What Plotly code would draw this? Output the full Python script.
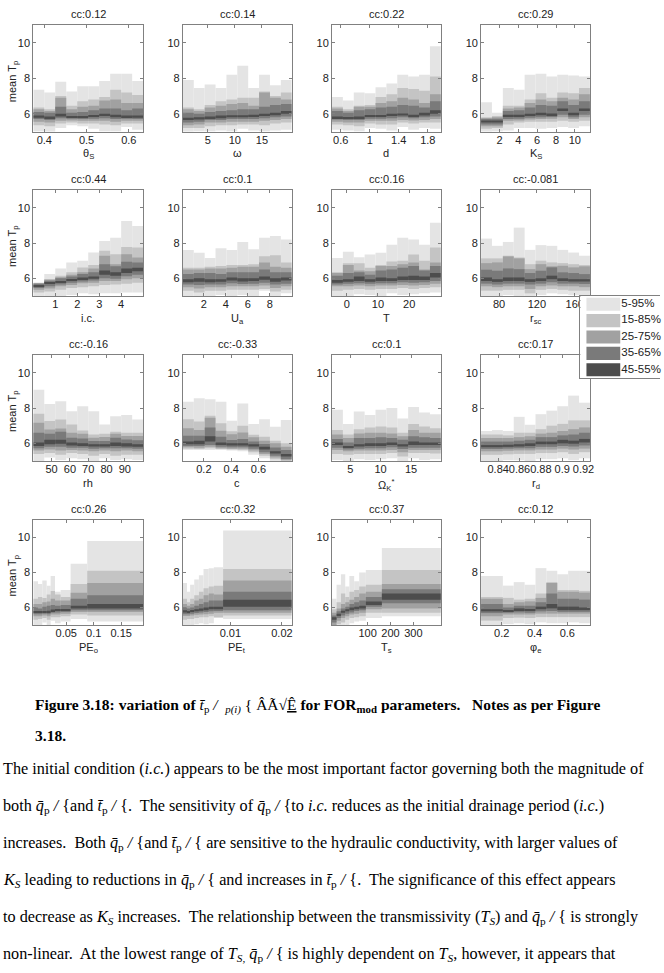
import plotly.graph_objects as go

W, H = 664, 973

LEVELS = ["5-95%", "15-85%", "25-75%", "35-65%", "45-55%"]
BAND_COLORS = ["#e4e4e4", "#c4c4c4", "#a1a1a1", "#7a7a7a", "#4d4d4d"]

CC_LABELS = ["cc:0.12", "cc:0.14", "cc:0.22", "cc:0.29",
             "cc:0.44", "cc:0.1", "cc:0.16", "cc:-0.081",
             "cc:-0.16", "cc:-0.33", "cc:0.1", "cc:0.17",
             "cc:0.26", "cc:0.32", "cc:0.37", "cc:0.12"]

X_LABELS = ["θ<sub>S</sub>", "ω", "d", "K<sub>S</sub>",
            "i.c.", "U<sub>a</sub>", "T", "r<sub>sc</sub>",
            "rh", "c", "Ω<sub>K</sub><sup>*</sup>", "r<sub>d</sub>",
            "PE<sub>o</sub>", "PE<sub>t</sub>", "T<sub>s</sub>", "φ<sub>e</sub>"]

X_TICKS = [[0.4, 0.5, 0.6], [5, 10, 15], [0.6, 1, 1.4, 1.8], [2, 4, 6, 8, 10],
           [1, 2, 3, 4], [2, 4, 6, 8], [0, 10, 20], [80, 120, 160],
           [50, 60, 70, 80, 90], [0.2, 0.4, 0.6], [5, 10, 15], [0.84, 0.86, 0.88, 0.9, 0.92],
           [0.05, 0.1, 0.15], [0.01, 0.02], [100, 200, 300], [0.2, 0.4, 0.6]]
X_TICKTEXT = [["0.4", "0.5", "0.6"], ["5", "10", "15"], ["0.6", "1", "1.4", "1.8"], ["2", "4", "6", "8", "10"],
              ["1", "2", "3", "4"], ["2", "4", "6", "8"], ["0", "10", "20"], ["80", "120", "160"],
              ["50", "60", "70", "80", "90"], ["0.2", "0.4", "0.6"], ["5", "10", "15"], ["0.84", "0.86", "0.88", "0.9", "0.92"],
              ["0.05", "0.1", "0.15"], ["0.01", "0.02"], ["100", "200", "300"], ["0.2", "0.4", "0.6"]]

Y_TICKS = [6, 8, 10]
Y_RANGE = [5, 11]

# ---- bin edges (parameter deciles) and percentiles p05,p15,...,p95 of mean Tp per bin ----
THETA_S_EDGES = [0.374, 0.400, 0.426, 0.452, 0.478, 0.504, 0.530, 0.556, 0.582, 0.608, 0.634]
THETA_S_PCT = [
    [5.0, 4.9, 5.2, 5.35, 5.3, 5.15, 5.0, 5.0, 5.25, 5.1],
    [5.35, 5.3, 5.45, 5.5, 5.45, 5.45, 5.4, 5.35, 5.45, 5.45],
    [5.55, 5.5, 5.6, 5.62, 5.6, 5.6, 5.6, 5.55, 5.6, 5.6],
    [5.7, 5.65, 5.75, 5.72, 5.7, 5.72, 5.75, 5.7, 5.72, 5.7],
    [5.78, 5.75, 5.85, 5.78, 5.78, 5.82, 5.88, 5.8, 5.8, 5.78],
    [5.9, 5.85, 6.0, 5.85, 5.88, 5.92, 6.0, 5.95, 5.9, 5.9],
    [6.1, 6.05, 6.4, 6.05, 6.1, 6.2, 6.3, 6.3, 6.2, 6.3],
    [6.25, 6.15, 6.9, 6.25, 6.4, 6.45, 6.75, 6.8, 6.6, 6.6],
    [6.35, 6.25, 7.0, 6.45, 6.7, 6.8, 6.95, 7.35, 7.2, 7.05],
    [7.35, 7.2, 7.8, 7.25, 7.55, 7.55, 7.85, 8.25, 8.25, 7.85],
]

OMEGA_EDGES = [0.4, 2.41, 4.42, 6.43, 8.44, 10.45, 12.46, 14.47, 16.48, 18.49, 20.5]
OMEGA_PCT = [
    [4.95, 5.0, 5.0, 5.05, 5.0, 5.15, 5.05, 5.0, 5.05, 5.1],
    [5.2, 5.2, 5.3, 5.35, 5.35, 5.4, 5.4, 5.35, 5.45, 5.5],
    [5.35, 5.4, 5.5, 5.5, 5.55, 5.55, 5.55, 5.6, 5.65, 5.7],
    [5.5, 5.55, 5.65, 5.65, 5.7, 5.7, 5.7, 5.75, 5.8, 5.85],
    [5.65, 5.68, 5.75, 5.75, 5.8, 5.8, 5.82, 5.88, 5.92, 6.0],
    [5.78, 5.8, 5.85, 5.9, 5.92, 5.92, 5.95, 6.0, 6.05, 6.15],
    [6.05, 6.0, 6.1, 6.15, 6.2, 6.25, 6.25, 6.4, 6.5, 6.55],
    [6.25, 6.15, 6.35, 6.45, 6.55, 6.6, 6.45, 7.2, 6.9, 6.8],
    [6.35, 6.25, 6.5, 6.7, 6.8, 6.9, 6.9, 7.25, 7.0, 7.2],
    [7.9, 7.45, 7.65, 7.45, 8.2, 8.7, 7.45, 8.2, 7.6, 7.9],
]

D_EDGES = [0.48, 0.63, 0.78, 0.93, 1.08, 1.23, 1.38, 1.53, 1.68, 1.83, 1.98]
D_PCT = [
    [5.1, 5.05, 5.0, 5.2, 5.15, 5.05, 5.25, 5.1, 5.2, 5.15],
    [5.4, 5.35, 5.3, 5.45, 5.4, 5.4, 5.5, 5.45, 5.5, 5.5],
    [5.55, 5.5, 5.5, 5.6, 5.6, 5.6, 5.65, 5.62, 5.65, 5.7],
    [5.68, 5.65, 5.65, 5.72, 5.72, 5.75, 5.8, 5.75, 5.8, 5.85],
    [5.75, 5.75, 5.75, 5.82, 5.82, 5.88, 5.9, 5.85, 5.9, 6.0],
    [5.85, 5.82, 5.85, 5.92, 5.92, 6.0, 6.02, 5.95, 6.05, 6.2],
    [6.15, 6.05, 6.2, 6.25, 6.35, 6.4, 6.5, 6.45, 6.35, 6.7],
    [6.3, 6.15, 6.4, 6.4, 6.6, 6.7, 6.9, 6.8, 6.6, 7.1],
    [6.4, 6.25, 6.45, 6.5, 6.95, 7.1, 7.45, 7.4, 7.3, 8.1],
    [6.95, 6.75, 7.2, 7.15, 7.5, 7.7, 8.2, 8.1, 8.2, 9.8],
]

KS_EDGES = [0.05, 1.2, 2.36, 3.52, 4.67, 5.83, 6.98, 8.13, 9.29, 10.44, 11.6]
KS_PCT = [
    [4.9, 5.0, 5.05, 5.2, 5.2, 5.15, 5.2, 5.25, 5.2, 5.3],
    [5.15, 5.2, 5.4, 5.5, 5.55, 5.55, 5.55, 5.6, 5.55, 5.6],
    [5.3, 5.3, 5.6, 5.62, 5.68, 5.7, 5.72, 5.8, 5.7, 5.8],
    [5.4, 5.4, 5.7, 5.72, 5.78, 5.8, 5.82, 5.95, 5.8, 5.95],
    [5.5, 5.5, 5.82, 5.85, 5.88, 5.92, 5.92, 6.15, 5.92, 6.15],
    [5.62, 5.62, 5.95, 5.95, 6.0, 6.05, 6.02, 6.3, 6.05, 6.3],
    [5.7, 5.72, 6.15, 6.2, 6.35, 6.5, 6.45, 6.7, 6.5, 6.7],
    [5.76, 5.8, 6.3, 6.35, 6.6, 6.8, 6.7, 6.9, 6.8, 7.1],
    [5.8, 5.88, 6.45, 6.45, 6.8, 7.15, 6.9, 7.2, 7.15, 7.45],
    [6.65, 6.05, 7.45, 7.35, 8.2, 8.25, 8.1, 8.2, 8.15, 8.1],
]

IC_EDGES = [0.0, 0.5, 1.0, 1.5, 2.0, 2.5, 3.0, 3.5, 4.0, 4.5, 5.0]
IC_PCT = [
    [4.95, 4.95, 5.0, 5.05, 5.15, 5.1, 5.15, 5.15, 5.2, 5.2],
    [5.2, 5.25, 5.35, 5.45, 5.5, 5.55, 5.62, 5.65, 5.7, 5.75],
    [5.35, 5.42, 5.55, 5.62, 5.72, 5.75, 5.85, 5.85, 5.95, 6.0],
    [5.45, 5.55, 5.65, 5.75, 5.82, 5.88, 6.0, 5.98, 6.12, 6.2],
    [5.55, 5.68, 5.78, 5.85, 5.95, 5.98, 6.2, 6.15, 6.3, 6.4],
    [5.62, 5.75, 5.85, 5.95, 6.05, 6.1, 6.45, 6.35, 6.55, 6.6],
    [5.7, 5.87, 6.0, 6.11, 6.24, 6.34, 6.8, 6.68, 6.94, 6.9],
    [5.72, 5.92, 6.06, 6.2, 6.34, 6.56, 7.28, 6.8, 7.37, 7.18],
    [5.74, 5.96, 6.15, 6.34, 6.62, 6.75, 7.56, 7.37, 7.78, 7.75],
    [5.77, 6.24, 6.56, 6.9, 7.0, 7.46, 8.12, 8.3, 9.25, 8.96],
]

UA_EDGES = [0.1, 1.09, 2.08, 3.07, 4.06, 5.05, 6.04, 7.03, 8.02, 9.01, 10.0]
UA_PCT = [
    [4.95, 4.9, 5.0, 5.05, 5.0, 5.05, 5.0, 5.3, 4.95, 5.15],
    [5.3, 5.2, 5.3, 5.3, 5.35, 5.35, 5.35, 5.4, 5.25, 5.35],
    [5.5, 5.42, 5.5, 5.5, 5.55, 5.55, 5.55, 5.6, 5.45, 5.55],
    [5.65, 5.62, 5.65, 5.65, 5.72, 5.68, 5.7, 5.75, 5.65, 5.7],
    [5.78, 5.8, 5.78, 5.8, 5.88, 5.82, 5.85, 5.92, 5.8, 5.88],
    [5.95, 6.0, 5.95, 5.95, 6.05, 6.0, 6.0, 6.1, 6.0, 6.05],
    [6.25, 6.3, 6.3, 6.25, 6.35, 6.35, 6.35, 6.5, 6.35, 6.35],
    [6.5, 6.5, 6.55, 6.55, 6.6, 6.65, 6.65, 6.9, 6.65, 6.6],
    [6.6, 6.6, 6.65, 6.7, 6.75, 6.75, 6.8, 7.25, 7.3, 6.9],
    [7.6, 7.45, 7.15, 7.7, 7.6, 8.05, 7.65, 8.3, 8.4, 8.2],
]

T_EDGES = [-4.7, -1.22, 2.26, 5.74, 9.22, 12.7, 16.18, 19.66, 23.14, 26.62, 30.1]
T_PCT = [
    [5.0, 4.95, 5.1, 5.05, 5.0, 5.15, 5.05, 5.1, 5.15, 5.2],
    [5.3, 5.35, 5.4, 5.35, 5.4, 5.4, 5.45, 5.4, 5.45, 5.5],
    [5.55, 5.55, 5.6, 5.55, 5.6, 5.6, 5.62, 5.6, 5.62, 5.7],
    [5.65, 5.7, 5.72, 5.7, 5.72, 5.72, 5.78, 5.75, 5.78, 5.85],
    [5.75, 5.8, 5.85, 5.8, 5.85, 5.85, 5.9, 5.9, 5.9, 6.05],
    [5.9, 5.95, 6.1, 5.95, 6.05, 6.0, 6.1, 6.15, 6.1, 6.3],
    [6.15, 6.3, 6.35, 6.2, 6.45, 6.5, 6.6, 6.7, 6.45, 6.7],
    [6.3, 6.75, 6.45, 6.4, 6.7, 6.7, 6.8, 6.9, 6.5, 6.9],
    [6.35, 6.85, 6.85, 6.6, 6.75, 6.95, 7.0, 7.35, 7.0, 7.75],
    [7.15, 7.5, 7.2, 7.35, 7.45, 7.9, 8.3, 8.2, 7.9, 9.15],
]

RSC_EDGES = [61, 72.5, 84, 95.5, 107, 118.5, 130, 141.5, 153, 164.5, 176]
RSC_PCT = [
    [4.95, 4.95, 5.05, 5.0, 4.95, 5.05, 5.15, 5.1, 5.05, 5.0],
    [5.3, 5.3, 5.35, 5.35, 5.15, 5.35, 5.4, 5.35, 5.3, 5.3],
    [5.55, 5.5, 5.55, 5.55, 5.4, 5.55, 5.6, 5.55, 5.55, 5.5],
    [5.7, 5.65, 5.7, 5.7, 5.65, 5.7, 5.78, 5.7, 5.7, 5.68],
    [5.85, 5.8, 5.85, 5.85, 5.8, 5.85, 5.95, 5.85, 5.82, 5.82],
    [6.05, 5.95, 6.05, 6.05, 5.95, 6.0, 6.15, 6.0, 5.95, 5.95],
    [6.49, 6.43, 6.56, 6.52, 6.3, 6.43, 6.62, 6.34, 6.3, 6.24],
    [6.86, 6.9, 7.24, 7.13, 6.52, 6.8, 6.68, 6.71, 6.62, 6.68],
    [7.13, 7.13, 7.28, 7.18, 6.8, 7.0, 6.9, 6.86, 6.8, 6.75],
    [8.25, 7.84, 8.06, 8.87, 7.61, 7.88, 7.84, 7.61, 7.46, 7.28],
]

RH_EDGES = [40, 46, 52, 58, 64, 70, 76, 82, 88, 94, 100]
RH_PCT = [
    [5.0, 5.2, 5.05, 5.15, 5.1, 4.95, 5.15, 5.05, 5.1, 5.05],
    [5.4, 5.45, 5.35, 5.45, 5.4, 5.3, 5.4, 5.3, 5.35, 5.35],
    [5.6, 5.65, 5.6, 5.62, 5.6, 5.55, 5.6, 5.55, 5.6, 5.55],
    [5.72, 5.8, 5.8, 5.75, 5.75, 5.7, 5.72, 5.72, 5.72, 5.7],
    [5.85, 5.95, 5.98, 5.88, 5.85, 5.82, 5.82, 5.85, 5.82, 5.8],
    [6.05, 6.2, 6.2, 6.05, 6.0, 5.95, 5.95, 6.05, 6.0, 5.95],
    [6.6, 6.54, 6.66, 6.32, 6.28, 6.13, 6.13, 6.32, 6.22, 6.17],
    [7.16, 6.79, 6.84, 6.6, 6.54, 6.32, 6.36, 6.54, 6.41, 6.41],
    [7.67, 7.26, 7.35, 7.07, 6.73, 6.5, 6.54, 6.66, 6.6, 6.6],
    [9.04, 8.23, 8.38, 7.82, 8.1, 7.82, 7.07, 7.54, 7.6, 7.35],
]

C_EDGES = [0.046, 0.126, 0.206, 0.285, 0.365, 0.445, 0.525, 0.605, 0.684, 0.764, 0.844]
C_PCT = [
    [5.62, 5.62, 5.62, 5.62, 5.6, 5.55, 5.35, 5.15, 5.0, 4.9],
    [5.7, 5.68, 5.72, 5.68, 5.65, 5.62, 5.5, 5.3, 5.1, 4.98],
    [5.78, 5.75, 5.8, 5.72, 5.7, 5.7, 5.6, 5.4, 5.2, 5.05],
    [5.85, 5.85, 5.9, 5.8, 5.78, 5.78, 5.7, 5.5, 5.3, 5.12],
    [5.95, 5.95, 6.1, 5.9, 5.88, 5.88, 5.82, 5.65, 5.42, 5.25],
    [6.1, 6.15, 6.4, 6.05, 6.0, 6.0, 5.95, 5.8, 5.55, 5.4],
    [6.43, 6.43, 6.9, 6.37, 6.19, 6.24, 6.11, 5.96, 5.77, 5.62],
    [6.86, 6.75, 7.45, 6.71, 6.52, 6.62, 6.34, 6.15, 6.0, 5.81],
    [7.37, 7.24, 7.56, 7.13, 6.68, 7.0, 6.49, 6.37, 6.15, 6.0],
    [8.36, 8.55, 8.5, 8.36, 7.28, 8.25, 7.09, 7.37, 6.94, 7.32],
]

OMEGA_K_EDGES = [2.0, 3.79, 5.58, 7.37, 9.16, 10.95, 12.74, 14.53, 16.32, 18.11, 19.9]
OMEGA_K_PCT = [
    [5.05, 5.0, 5.1, 5.05, 5.1, 5.15, 4.95, 5.15, 5.05, 5.1],
    [5.4, 5.35, 5.4, 5.4, 5.4, 5.45, 5.25, 5.45, 5.45, 5.42],
    [5.62, 5.55, 5.6, 5.6, 5.6, 5.62, 5.5, 5.62, 5.62, 5.62],
    [5.75, 5.65, 5.7, 5.72, 5.72, 5.78, 5.68, 5.75, 5.75, 5.75],
    [5.9, 5.75, 5.82, 5.85, 5.85, 5.95, 5.82, 5.9, 5.9, 5.9],
    [6.05, 5.85, 5.95, 6.0, 6.0, 6.05, 5.95, 6.1, 6.05, 6.05],
    [6.25, 6.05, 6.3, 6.3, 6.35, 6.3, 6.2, 6.4, 6.35, 6.3],
    [6.5, 6.3, 6.55, 6.6, 6.6, 6.55, 6.4, 6.75, 6.6, 6.6],
    [6.75, 6.5, 6.8, 6.9, 6.95, 6.9, 6.6, 7.1, 6.95, 6.85],
    [7.9, 7.1, 7.8, 7.6, 7.9, 8.0, 7.4, 8.05, 7.75, 7.65],
]

RD_EDGES = [0.824, 0.8342, 0.8444, 0.8546, 0.8648, 0.875, 0.8852, 0.8954, 0.9056, 0.9158, 0.926]
RD_PCT = [
    [5.0, 5.0, 5.05, 5.05, 5.0, 5.1, 5.1, 5.15, 5.05, 5.15],
    [5.35, 5.35, 5.38, 5.4, 5.4, 5.45, 5.45, 5.5, 5.4, 5.5],
    [5.55, 5.55, 5.58, 5.6, 5.6, 5.65, 5.65, 5.7, 5.65, 5.7],
    [5.68, 5.68, 5.7, 5.72, 5.72, 5.8, 5.8, 5.85, 5.82, 5.88],
    [5.78, 5.78, 5.8, 5.82, 5.85, 5.95, 5.95, 6.0, 5.98, 6.05],
    [5.9, 5.9, 5.92, 5.95, 6.0, 6.1, 6.1, 6.2, 6.15, 6.25],
    [6.1, 6.1, 6.1, 6.15, 6.2, 6.35, 6.35, 6.45, 6.5, 6.6],
    [6.3, 6.3, 6.3, 6.35, 6.4, 6.55, 6.6, 6.7, 6.8, 6.9],
    [6.5, 6.5, 6.45, 6.6, 6.6, 6.8, 7.0, 7.1, 7.3, 7.3],
    [6.7, 6.75, 6.7, 7.5, 7.05, 7.65, 7.85, 8.1, 8.7, 8.3],
]

PEO_EDGES = [-0.01, -0.0015, 0.0064, 0.0144, 0.0216, 0.0295, 0.0398, 0.058, 0.0882, 0.19]
PEO_PCT = [
    [4.95, 5.0, 5.15, 4.95, 5.25, 5.1, 5.2, 5.35, 5.2],
    [5.3, 5.35, 5.4, 5.3, 5.45, 5.45, 5.5, 5.6, 5.55],
    [5.5, 5.5, 5.55, 5.5, 5.6, 5.6, 5.65, 5.75, 5.75],
    [5.62, 5.62, 5.65, 5.62, 5.7, 5.72, 5.75, 5.85, 5.85],
    [5.72, 5.7, 5.72, 5.72, 5.78, 5.8, 5.82, 5.95, 5.95],
    [5.8, 5.78, 5.8, 5.82, 5.88, 5.9, 5.92, 6.1, 6.2],
    [6.0, 5.95, 6.05, 6.1, 6.15, 6.1, 6.15, 6.5, 6.7],
    [6.2, 6.2, 6.3, 6.35, 6.5, 6.4, 6.4, 6.85, 7.4],
    [6.5, 6.6, 6.55, 6.75, 6.95, 6.75, 6.6, 7.35, 8.1],
    [7.5, 7.35, 7.55, 7.25, 7.8, 6.9, 7.0, 8.5, 9.8],
]

PET_EDGES = [0.0008, 0.0016, 0.0022, 0.0030, 0.0039, 0.0048, 0.0058, 0.0068, 0.0086, 0.0219]
PET_PCT = [
    [4.95, 5.0, 5.0, 5.05, 5.1, 5.05, 5.1, 5.4, 5.35],
    [5.3, 5.35, 5.35, 5.4, 5.45, 5.45, 5.5, 5.45, 5.55],
    [5.52, 5.52, 5.55, 5.58, 5.6, 5.62, 5.65, 5.7, 5.7],
    [5.62, 5.62, 5.65, 5.68, 5.72, 5.75, 5.78, 5.8, 5.85],
    [5.72, 5.7, 5.75, 5.78, 5.82, 5.85, 5.9, 5.9, 6.05],
    [5.85, 5.8, 5.85, 5.9, 5.95, 6.0, 6.05, 6.05, 6.45],
    [6.0, 5.95, 6.0, 6.1, 6.2, 6.3, 6.4, 6.4, 6.9],
    [6.2, 6.1, 6.2, 6.4, 6.5, 6.7, 6.8, 6.75, 7.55],
    [6.5, 6.3, 6.5, 6.7, 6.9, 7.1, 7.2, 7.25, 8.2],
    [7.4, 6.9, 7.3, 7.6, 7.85, 8.2, 8.25, 8.3, 10.4],
]

TS_EDGES = [-56, -36, -17, 2, 20, 41, 63, 92, 162, 420]
TS_PCT = [
    [4.7, 4.8, 4.9, 5.0, 5.1, 5.2, 5.25, 5.4, 5.5],
    [4.85, 5.05, 5.15, 5.3, 5.4, 5.45, 5.5, 5.7, 5.7],
    [5.0, 5.25, 5.4, 5.5, 5.6, 5.65, 5.7, 5.9, 5.95],
    [5.15, 5.4, 5.55, 5.65, 5.72, 5.8, 5.85, 6.05, 6.25],
    [5.3, 5.55, 5.7, 5.78, 5.85, 5.9, 5.95, 6.15, 6.45],
    [5.45, 5.65, 5.82, 5.9, 6.0, 6.05, 6.1, 6.35, 6.8],
    [5.55, 5.78, 5.95, 6.05, 6.2, 6.3, 6.4, 6.6, 7.05],
    [5.7, 5.95, 6.2, 6.3, 6.45, 6.6, 6.8, 6.9, 7.35],
    [5.9, 6.3, 6.8, 6.6, 6.9, 7.0, 7.2, 7.3, 8.15],
    [6.5, 7.3, 7.9, 7.2, 7.8, 7.5, 8.0, 8.15, 9.4],
]

PHI_E_EDGES = [0.074, 0.1404, 0.2068, 0.2732, 0.3396, 0.406, 0.4724, 0.5388, 0.6052, 0.6716, 0.738]
PHI_E_PCT = [
    [4.95, 4.95, 5.05, 5.1, 5.05, 5.15, 5.1, 5.1, 5.15, 5.1],
    [5.25, 5.25, 5.4, 5.42, 5.4, 5.45, 5.45, 5.45, 5.45, 5.45],
    [5.5, 5.5, 5.6, 5.6, 5.6, 5.65, 5.65, 5.65, 5.65, 5.65],
    [5.68, 5.68, 5.7, 5.72, 5.7, 5.78, 5.8, 5.75, 5.75, 5.75],
    [5.78, 5.78, 5.78, 5.85, 5.8, 5.9, 5.95, 5.85, 5.85, 5.85],
    [5.9, 5.9, 5.85, 5.95, 5.9, 6.05, 6.2, 6.05, 6.05, 6.0],
    [6.2, 6.2, 6.0, 6.1, 6.1, 6.3, 6.8, 6.5, 6.5, 6.45],
    [6.5, 6.5, 6.2, 6.3, 6.35, 6.55, 7.4, 6.9, 6.9, 6.85],
    [6.6, 6.6, 6.55, 6.45, 6.5, 6.8, 7.45, 7.0, 7.0, 6.95],
    [7.8, 7.8, 7.25, 7.45, 7.3, 8.25, 8.1, 7.9, 8.1, 8.1],
]

PANEL_EDGES = [THETA_S_EDGES, OMEGA_EDGES, D_EDGES, KS_EDGES,
               IC_EDGES, UA_EDGES, T_EDGES, RSC_EDGES,
               RH_EDGES, C_EDGES, OMEGA_K_EDGES, RD_EDGES,
               PEO_EDGES, PET_EDGES, TS_EDGES, PHI_E_EDGES]
PANEL_PCT = [THETA_S_PCT, OMEGA_PCT, D_PCT, KS_PCT,
             IC_PCT, UA_PCT, T_PCT, RSC_PCT,
             RH_PCT, C_PCT, OMEGA_K_PCT, RD_PCT,
             PEO_PCT, PET_PCT, TS_PCT, PHI_E_PCT]

# ---- text below the figure ----
QP = "<i>q\u0304</i><sub>p</sub> <i>/</i> {"
TP = "<i>t\u0304</i><sub>p</sub> <i>/</i> {"
NB = "\u00a0"
CAPTION_LINES = [
    "<b>Figure 3.18: variation of </b><i>t\u0304</i><sub>p</sub> <i>/</i>  <sub><i>p(i)</i></sub> { ÂÃ√<u>Ê</u> <b>for FOR<sub>mod</sub> parameters." + NB * 3 + "Notes as per Figure</b>",
    "<b>3.18.</b>",
]
BODY_LINES = [
    "The initial condition (<i>i.c.</i>) appears to be the most important factor governing both the magnitude of",
    "both " + QP + "and " + TP + "." + NB + " The sensitivity of " + QP + "to <i>i.c.</i> reduces as the initial drainage period (<i>i.c.</i>)",
    "increases." + NB + " Both " + QP + "and " + TP + " are sensitive to the hydraulic conductivity, with larger values of",
    "<i>K<sub>S</sub></i> leading to reductions in " + QP + " and increases in " + TP + "." + NB + " The significance of this effect appears",
    "to decrease as <i>K<sub>S</sub></i> increases." + NB + " The relationship between the transmissivity (<i>T<sub>S</sub></i>) and " + QP + " is strongly",
    "non-linear." + NB + " At the lowest range of <i>T<sub>S,</sub></i> " + QP + " is highly dependent on <i>T<sub>S</sub></i>, however, it appears that",
]

# ---- layout geometry (pixels) ----
COL_X = [(33.5, 144), (184, 293.5), (334, 443.5), (484, 593.5)]
ROW_Y = [(25, 131.5), (190, 296), (355, 461), (520, 625)]

SANS = "Liberation Sans, Arial, sans-serif"
SERIF = "Liberation Serif, Times New Roman, serif"
AXIS_GRAY = "#808080"
TXT = "#222222"


def fx(px):
    return px / W


def fy(py):
    return 1 - py / H


fig = go.Figure()
layout = dict(
    width=W, height=H, margin=dict(l=0, r=0, t=0, b=0),
    paper_bgcolor="white", plot_bgcolor="white",
    barmode="overlay", showlegend=False,
    font=dict(family=SANS, size=11, color=TXT),
)
annotations = []

for i in range(16):
    k = i + 1
    r, c = divmod(i, 4)
    xs = "x" if k == 1 else f"x{k}"
    ys = "y" if k == 1 else f"y{k}"
    edges = PANEL_EDGES[i]
    pct = PANEL_PCT[i]
    centers = [(a + b) / 2 for a, b in zip(edges[:-1], edges[1:])]
    widths = [b - a for a, b in zip(edges[:-1], edges[1:])]
    for j in range(5):
        lo = pct[j]
        hi = pct[9 - j]
        fig.add_trace(go.Bar(
            x=centers, y=[h - l for h, l in zip(hi, lo)], base=lo, width=widths,
            marker=dict(color=BAND_COLORS[j], line=dict(width=0)),
            xaxis=xs, yaxis=ys, hoverinfo="skip", showlegend=False,
        ))
    x0, x1 = COL_X[c]
    y0, y1 = ROW_Y[r]
    axcommon = dict(showline=True, linecolor=AXIS_GRAY, linewidth=1, mirror="ticks",
                    ticks="inside", ticklen=3, tickcolor=AXIS_GRAY, tickwidth=1,
                    showgrid=False, zeroline=False, tickangle=0,
                    tickfont=dict(family=SANS, size=11, color=TXT))
    layout["xaxis" if k == 1 else f"xaxis{k}"] = dict(
        domain=[fx(x0), fx(x1)], range=[edges[0], edges[-1]],
        tickmode="array", tickvals=X_TICKS[i], ticktext=X_TICKTEXT[i],
        ticklabelstandoff=-2,
        anchor=ys, **axcommon)
    layout["yaxis" if k == 1 else f"yaxis{k}"] = dict(
        domain=[fy(y1), fy(y0)], range=Y_RANGE,
        tickmode="array", tickvals=Y_TICKS,
        anchor=xs, **axcommon)
    xc = fx((x0 + x1) / 2)
    annotations.append(dict(text=CC_LABELS[i], x=xc, y=fy(y0 - 11), xref="paper", yref="paper",
                            xanchor="center", yanchor="middle", showarrow=False,
                            font=dict(family=SANS, size=11, color=TXT)))
    annotations.append(dict(text=X_LABELS[i], x=xc, y=fy(y1 + 14), xref="paper", yref="paper",
                            xanchor="center", yanchor="top", showarrow=False,
                            font=dict(family=SANS, size=11, color=TXT)))
    if c == 0:
        annotations.append(dict(text="mean T<sub>p</sub>", x=fx(13), y=fy((y0 + y1) / 2 + 3),
                                xref="paper", yref="paper", xanchor="center", yanchor="middle",
                                textangle=-90, showarrow=False,
                                font=dict(family=SANS, size=11, color=TXT)))

# ---- legend drawn as a small key axis ----
LEG_X = (584, 664)
LEG_Y = (296, 378)
fig.add_trace(go.Bar(y=LEVELS, x=[80] * 5, base=[0] * 5, width=1, orientation="h",
                     marker=dict(color="white", line=dict(width=0)),
                     xaxis="x17", yaxis="y17", hoverinfo="skip", showlegend=False))
fig.add_trace(go.Bar(y=LEVELS, x=[34] * 5, base=[6] * 5, width=0.8, orientation="h",
                     marker=dict(color=BAND_COLORS, line=dict(width=0)),
                     xaxis="x17", yaxis="y17", hoverinfo="skip", showlegend=False))
fig.add_trace(go.Scatter(y=LEVELS, x=[41] * 5, mode="text", text=LEVELS,
                         textposition="middle right",
                         textfont=dict(family=SANS, size=11.5, color=TXT),
                         xaxis="x17", yaxis="y17", hoverinfo="skip", showlegend=False,
                         cliponaxis=False))
layout["xaxis17"] = dict(domain=[fx(LEG_X[0]), fx(LEG_X[1])], range=[0, 80], anchor="y17",
                         showline=True, mirror=True, linecolor=AXIS_GRAY, linewidth=1,
                         showticklabels=False, ticks="", showgrid=False, zeroline=False)
layout["yaxis17"] = dict(domain=[fy(LEG_Y[1]), fy(LEG_Y[0])], range=[4.5, -0.5], anchor="x17",
                         type="category", categoryorder="array", categoryarray=LEVELS,
                         showline=True, mirror=False, linecolor=AXIS_GRAY, linewidth=1,
                         showticklabels=False, ticks="", showgrid=False, zeroline=False)

# ---- caption and body text ----
CAP_Y = [706, 735]
for t, yy in zip(CAPTION_LINES, CAP_Y):
    annotations.append(dict(text=t, x=fx(33), y=fy(yy), xref="paper", yref="paper",
                            xanchor="left", yanchor="middle", showarrow=False,
                            font=dict(family=SERIF, size=15.5, color="#000000")))
BODY_Y = [769, 806, 843, 880, 917, 954]
for t, yy in zip(BODY_LINES, BODY_Y):
    annotations.append(dict(text=t, x=fx(1), y=fy(yy), xref="paper", yref="paper",
                            xanchor="left", yanchor="middle", showarrow=False,
                            font=dict(family=SERIF, size=16.2, color="#000000")))

layout["annotations"] = annotations
fig.update_layout(**layout)
fig.write_html("out.html")
